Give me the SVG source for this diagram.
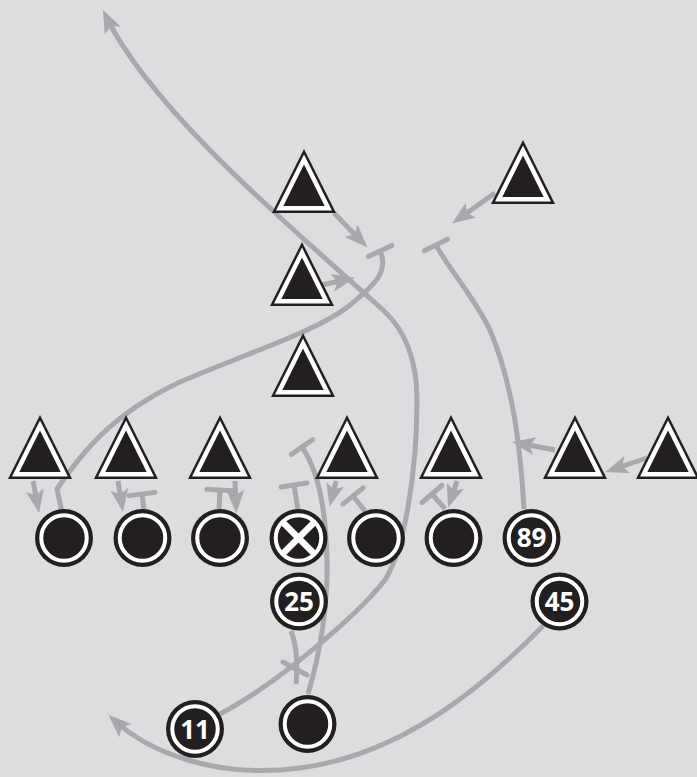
<svg xmlns="http://www.w3.org/2000/svg" width="697" height="777" viewBox="0 0 697 777">
<style>
.ln{fill:none;stroke:#a7a9ac;stroke-width:5}
.ar{marker-end:url(#arr)}
.te{marker-end:url(#tee)}
.num{font-family:"Open Sans","Liberation Sans",sans-serif;font-weight:700;font-size:26px;fill:#fff;text-anchor:middle}
</style>
<defs>
<marker id="arr" viewBox="-20 -12 30 24" refX="0" refY="0" markerWidth="30" markerHeight="24" markerUnits="userSpaceOnUse" orient="auto">
<path d="M6,0 L-17,-9 L-12,0 L-17,9 Z" fill="#a7a9ac"/>
</marker>
<marker id="tee" viewBox="-5 -16 10 32" refX="0" refY="0" markerWidth="10" markerHeight="32" markerUnits="userSpaceOnUse" orient="auto">
<path d="M0,-13 L0,13" stroke="#a7a9ac" stroke-width="5" stroke-linecap="round"/>
</marker>
<g id="tri">
<polygon points="0,0 -32,64 32,64" fill="#231f20"/>
<polygon points="0,5.6 -27.96,61.5 27.96,61.5" fill="#fff"/>
<polygon points="0,15.6 -20.7,57 20.7,57" fill="#231f20"/>
</g>
<g id="cir">
<circle r="29" fill="#231f20"/>
<circle r="22.75" fill="#231f20" stroke="#fff" stroke-width="4"/>
</g>
</defs>
<rect width="697" height="777" fill="#dcdddf"/>
<g id="connectors">
<path class="ln ar" d="M220,714 C275,685 355,618 385,580 C405,548 417,470 417,400 C417,360 405,330 383,310 C300,235 152,112 105.5,15.4"/>
<path class="ln te" d="M62,512 L57,489 C80,455 110,415 180,382 C250,352 320,330 350,305 C372,287 390,272 380,251"/>
<path class="ln te" d="M524,509 C520,440 512,385 492,335 C480,305 446,265 436,245"/>
<path class="ln te" d="M308,694 C318,660 328,610 327,560 C326,510 318,470 302,447"/>
<path class="ln ar" d="M543,626 C480,690 400,755 300,768 C215,779 148,752 113,719"/>
<path class="ln" d="M291,631 Q299,652 296,684"/>
<path class="ln" d="M283,662 L307,675" stroke-linecap="round"/>
<path class="ln ar" d="M334,213 L363,243"/>
<path class="ln ar" d="M495,193 L457,220"/>
<path class="ln ar" d="M322,285 L349,279"/>
<path class="ln ar" d="M33,481 L38,507"/>
<path class="ln ar" d="M118,481 L122,506"/>
<path class="ln ar" d="M235,481 L236,507"/>
<path class="ln ar" d="M336,481 L331,501"/>
<path class="ln ar" d="M457,481 L450,502"/>
<path class="ln ar" d="M555,450 L518,443"/>
<path class="ln ar" d="M647,458 L611,470"/>
<path class="ln te" d="M144,510 L142,494"/>
<path class="ln te" d="M219,509 L220,490"/>
<path class="ln te" d="M298,510 L294,485"/>
<path class="ln te" d="M365,511 L353,496"/>
<path class="ln te" d="M445,509 L432,494"/>
</g>
<g id="d-lb1"><use href="#tri" transform="translate(304,149)"/></g>
<g id="d-s"><use href="#tri" transform="translate(523,140)"/></g>
<g id="d-lb2"><use href="#tri" transform="translate(302,242)"/></g>
<g id="d-lb3"><use href="#tri" transform="translate(303,333)"/></g>
<g id="d-l1"><use href="#tri" transform="translate(40,415)"/></g>
<g id="d-l2"><use href="#tri" transform="translate(126,415)"/></g>
<g id="d-l3"><use href="#tri" transform="translate(220,415)"/></g>
<g id="d-l4"><use href="#tri" transform="translate(347,415)"/></g>
<g id="d-l5"><use href="#tri" transform="translate(451,415)"/></g>
<g id="d-l6"><use href="#tri" transform="translate(575,415)"/></g>
<g id="d-l7"><use href="#tri" transform="translate(668,415)"/></g>
<g id="o-lt"><use href="#cir" transform="translate(64,538)"/></g>
<g id="o-lg"><use href="#cir" transform="translate(142.5,538)"/></g>
<g id="o-g2"><use href="#cir" transform="translate(220,538)"/></g>
<g id="o-c"><use href="#cir" transform="translate(298.5,538)"/>
<path d="M283.5,523 L313.5,553 M313.5,523 L283.5,553" stroke="#fff" stroke-width="6.5"/></g>
<g id="o-rg"><use href="#cir" transform="translate(376,538)"/></g>
<g id="o-rt"><use href="#cir" transform="translate(453.5,538)"/></g>
<g id="o-89"><use href="#cir" transform="translate(531.5,538)"/><text class="num" x="531.5" y="547">89</text></g>
<g id="o-25"><use href="#cir" transform="translate(299,601.5)"/><text class="num" x="299" y="611">25</text></g>
<g id="o-45"><use href="#cir" transform="translate(559.5,601.5)"/><text class="num" x="559.5" y="611">45</text></g>
<g id="o-11"><use href="#cir" transform="translate(195,729)"/><text class="num" x="195" y="738.5">11</text></g>
<g id="o-b"><use href="#cir" transform="translate(307.5,724)"/></g>
</svg>
